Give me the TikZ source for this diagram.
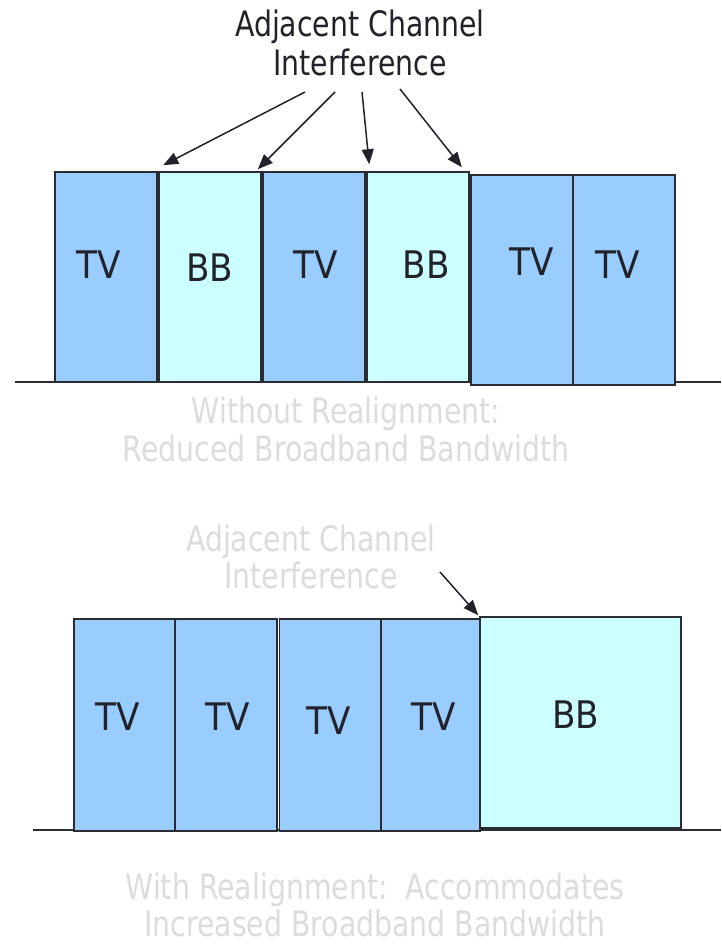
\documentclass[tikz,border=0pt]{standalone}
\usepackage{fontspec}
\setmainfont{DejaVu Sans}
\newfontfamily\capfont[FakeStretch=0.81]{DejaVu Sans}
\newfontfamily\chfont[FakeStretch=0.9]{DejaVu Sans}
\usetikzlibrary{arrows.meta}
\definecolor{tvblue}{HTML}{99CCFF}
\definecolor{bbcyan}{HTML}{CCFFFF}
\definecolor{edge}{HTML}{2B2B33}
\definecolor{ink}{HTML}{22222A}
\definecolor{faint}{HTML}{DCDCDC}
\begin{document}
\begin{tikzpicture}[x=1pt,y=-1pt,
  chan/.style={draw=edge, line width=1.6pt, inner sep=0pt, minimum width=102pt, minimum height=210pt},
  tv/.style={chan, fill=tvblue},
  bb/.style={chan, fill=bbcyan},
  lbl/.style={font=\chfont\fontsize{38}{40}\selectfont, text=ink, anchor=base, inner sep=0pt},
  title/.style={font=\capfont\fontsize{35}{38}\selectfont, text=ink, anchor=base, inner sep=0pt},
  note/.style={title, text=faint},
  arr/.style={draw=ink, line width=1.5pt, -{Triangle[length=15pt,width=12pt]}},
  axis/.style={draw=edge, line width=1.5pt}]
\useasboundingbox[fill=white] (0,0) rectangle (721,944);

% ---------- upper band plan: without realignment ----------
\coordinate (ua) at (15,382);
\coordinate (ub) at (721,382);
\draw[axis] (ua) -- (ub);

\node[tv] (tu1) at (106,277) {};
\node[bb] (bu1) at (210,277) {};
\node[tv] (tu2) at (314,277) {};
\node[bb] (bu2) at (418,277) {};
\node[tv] (tu3) at (522,280) {};
\node[tv] (tu4) at (624,280) {};

\node[lbl] (ltu1) at (98.5,278) {TV};
\node[lbl] (lbu1) at (209.5,281) {BB};
\node[lbl] (ltu2) at (316,278) {TV};
\node[lbl] (lbu2) at (426,278) {BB};
\node[lbl] (ltu3) at (532,275) {TV};
\node[lbl] (ltu4) at (618,278) {TV};

\node[title] (ta) at (360,37) {Adjacent Channel};
\node[title] (tb) at (360,76) {Interference};

\coordinate (s1) at (305,92);
\coordinate (s2) at (335,92);
\coordinate (s3) at (362,92);
\coordinate (s4) at (400,89);
\draw[arr] (s1) -- ([xshift=5pt,yshift=6pt]bu1.north west);
\draw[arr] (s2) -- ([xshift=-4pt,yshift=2pt]bu1.north east);
\draw[arr] (s3) -- ([xshift=3pt,yshift=7pt]bu2.north west);
\draw[arr] (s4) -- ([xshift=-8pt,yshift=4pt]bu2.north east);

\node[note] (na) at (346,423) {Without Realignment:};
\node[note] (nb) at (346,461) {Reduced Broadband Bandwidth};

% ---------- lower band plan: with realignment ----------
\coordinate (la) at (33,830);
\coordinate (lb) at (721,830);
\draw[axis] (la) -- (lb);

\node[tv, minimum height=211.7pt, minimum width=101pt] (tl1) at (124.5,725) {};
\node[tv, minimum height=211.7pt, minimum width=102pt] (tl2) at (226,725) {};
\node[tv, minimum height=211.7pt, minimum width=101.5pt] (tl3) at (330.25,725) {};
\node[tv, minimum height=211.7pt, minimum width=99pt] (tl4) at (430.5,725) {};
\node[bb, minimum height=211pt, minimum width=201pt] (bl) at (580.5,722.5) {};

\node[lbl] (ltl1) at (117.6,730) {TV};
\node[lbl] (ltl2) at (227.6,730) {TV};
\node[lbl] (ltl3) at (328.9,734) {TV};
\node[lbl] (ltl4) at (433.6,730) {TV};
\node[lbl] (lbl1) at (575.6,728) {BB};

\node[note] (ma) at (311,551) {Adjacent Channel};
\node[note] (mb) at (311,588) {Interference};

\coordinate (s5) at (440,572);
\draw[arr] (s5) -- ([xshift=-1pt,yshift=1pt]bl.north west);

\node[note] (ca) at (375,899) {With Realignment:\ \ Accommodates};
\node[note] (cb) at (375,936) {Increased Broadband Bandwidth};
\end{tikzpicture}
\end{document}
